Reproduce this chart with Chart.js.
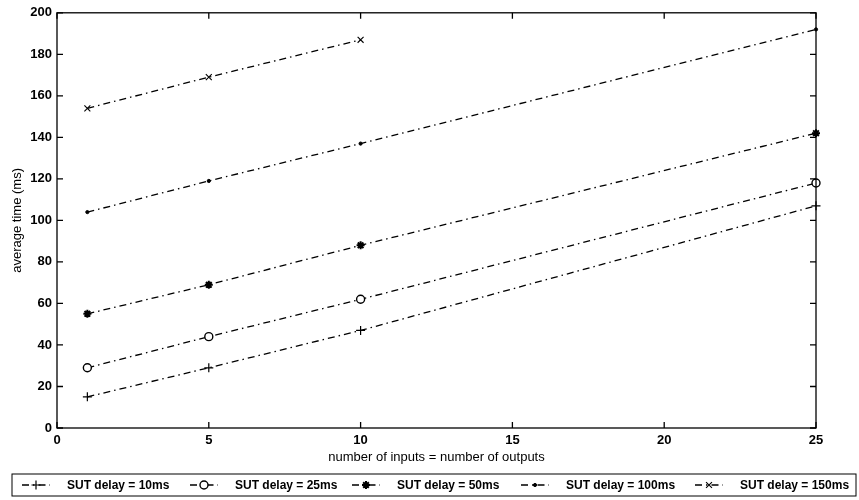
<!DOCTYPE html>
<html>
<head>
<meta charset="utf-8">
<script src="https://cdn.jsdelivr.net/npm/chart.js@4.4.1/dist/chart.umd.min.js"></script>
<style>
    html, body { margin: 0; padding: 0; background: #ffffff; }
    canvas { display: block; }
</style>
</head>
<body>
<canvas id="timeChart" width="859" height="500"></canvas>
<script>
const inputCounts = [1, 5, 10, 25];
const delayLabels = ['SUT delay = 10ms', 'SUT delay = 25ms', 'SUT delay = 50ms', 'SUT delay = 100ms', 'SUT delay = 150ms'];
const delay10 = [15, 29, 47, 107];
const delay25 = [29, 44, 62, 118];
const delay50 = [55, 69, 88, 142];
const delay100 = [104, 119, 137, 192];
const delay150 = [154, 169, 187];
const xTicks = [0, 5, 10, 15, 20, 25];
const yTicks = [0, 20, 40, 60, 80, 100, 120, 140, 160, 180, 200];

const FONT = '"Liberation Sans", Arial, sans-serif';
const DASH = [7, 4, 1.5, 4];

function toPoints(values) {
    return values.map((y, i) => ({ x: inputCounts[i], y }));
}

const markerStyles = [
    { pointStyle: 'cross', radius: 4.5, fill: '#000000', width: 1.2 },
    { pointStyle: 'circle', radius: 4, fill: '#ffffff', width: 1.4 },
    { pointStyle: 'star', radius: 4, fill: '#000000', width: 2 },
    { pointStyle: 'circle', radius: 1.6, fill: '#000000', width: 1 },
    { pointStyle: 'crossRot', radius: 4.2, fill: '#000000', width: 1.1 },
];

const seriesValues = [delay10, delay25, delay50, delay100, delay150];

const datasets = seriesValues.map((values, i) => ({
    label: delayLabels[i],
    data: toPoints(values),
    borderColor: '#000000',
    borderWidth: 1.3,
    borderDash: DASH,
    pointStyle: markerStyles[i].pointStyle,
    pointRadius: markerStyles[i].radius,
    pointBackgroundColor: markerStyles[i].fill,
    pointBorderColor: '#000000',
    pointBorderWidth: markerStyles[i].width,
    fill: false,
    tension: 0,
    clip: false,
}));

// box round the plot, inward ticks on all four sides, and the boxed legend underneath
const matlabFrame = {
    id: 'matlabFrame',
    afterDraw(chart) {
        const { ctx, chartArea: a, scales } = chart;
        const tick = 6;
        ctx.save();
        ctx.strokeStyle = '#000000';
        ctx.lineWidth = 1.3;
        ctx.setLineDash([]);
        ctx.strokeRect(a.left, a.top, a.right - a.left, a.bottom - a.top);

        ctx.beginPath();
        xTicks.forEach((v) => {
            const px = scales.x.getPixelForValue(v);
            ctx.moveTo(px, a.bottom);
            ctx.lineTo(px, a.bottom - tick);
            ctx.moveTo(px, a.top);
            ctx.lineTo(px, a.top + tick);
        });
        yTicks.forEach((v) => {
            const py = scales.y.getPixelForValue(v);
            ctx.moveTo(a.left, py);
            ctx.lineTo(a.left + tick, py);
            ctx.moveTo(a.right, py);
            ctx.lineTo(a.right - tick, py);
        });
        ctx.stroke();

        // legend
        const box = { left: 12, top: 474, width: 844, height: 22 };
        const cy = box.top + box.height / 2;
        const itemStarts = [22, 190, 352, 521, 695];
        const textOffset = 45;
        const sampleWidth = 28;
        ctx.lineWidth = 1;
        ctx.strokeRect(box.left, box.top, box.width, box.height);
        ctx.font = 'bold 12px ' + FONT;
        ctx.fillStyle = '#000000';
        ctx.textBaseline = 'middle';
        ctx.textAlign = 'left';
        chart.data.datasets.forEach((ds, i) => {
            const x0 = itemStarts[i];
            ctx.lineWidth = 1.3;
            ctx.setLineDash(DASH);
            ctx.beginPath();
            ctx.moveTo(x0, cy);
            ctx.lineTo(x0 + sampleWidth, cy);
            ctx.stroke();
            ctx.setLineDash([]);
            ctx.fillStyle = ds.pointBackgroundColor;
            ctx.lineWidth = ds.pointBorderWidth;
            Chart.helpers.drawPoint(ctx, {
                pointStyle: ds.pointStyle,
                radius: ds.pointRadius,
                rotation: 0,
                borderWidth: ds.pointBorderWidth,
            }, x0 + sampleWidth / 2, cy);
            ctx.fillStyle = '#000000';
            ctx.fillText(ds.label, x0 + textOffset, cy + 1);
        });
        ctx.restore();
    },
};

new Chart(document.getElementById('timeChart'), {
    type: 'line',
    data: { datasets },
    options: {
        responsive: false,
        animation: false,
        devicePixelRatio: 1,
        layout: {
            padding: { left: 0, right: 43, top: 8, bottom: 32 },
        },
        plugins: {
            legend: { display: false },
            tooltip: { enabled: false },
        },
        scales: {
            x: {
                type: 'linear',
                min: 0,
                max: 25,
                afterBuildTicks: (scale) => {
                    scale.ticks = xTicks.map((value) => ({ value }));
                },
                afterFit: (scale) => {
                    scale.height = 40;
                },
                ticks: {
                    color: '#000000',
                    padding: 5,
                    maxRotation: 0,
                    font: { family: FONT, size: 13, weight: 'bold' },
                },
                grid: { display: false, drawTicks: false },
                border: { display: false },
                title: {
                    display: true,
                    text: 'number of inputs = number of outputs',
                    color: '#000000',
                    font: { family: FONT, size: 13 },
                    padding: { top: 0, bottom: 3 },
                },
            },
            y: {
                type: 'linear',
                min: 0,
                max: 200,
                afterBuildTicks: (scale) => {
                    scale.ticks = yTicks.map((value) => ({ value }));
                },
                afterFit: (scale) => {
                    scale.width = 57;
                },
                ticks: {
                    color: '#000000',
                    padding: 5,
                    font: { family: FONT, size: 13, weight: 'bold' },
                },
                grid: { display: false, drawTicks: false },
                border: { display: false },
                title: {
                    display: true,
                    text: 'average time (ms)',
                    color: '#000000',
                    font: { family: FONT, size: 13 },
                    padding: { top: 10, bottom: 0 },
                },
            },
        },
    },
    plugins: [matlabFrame],
});
</script>
</body>
</html>
